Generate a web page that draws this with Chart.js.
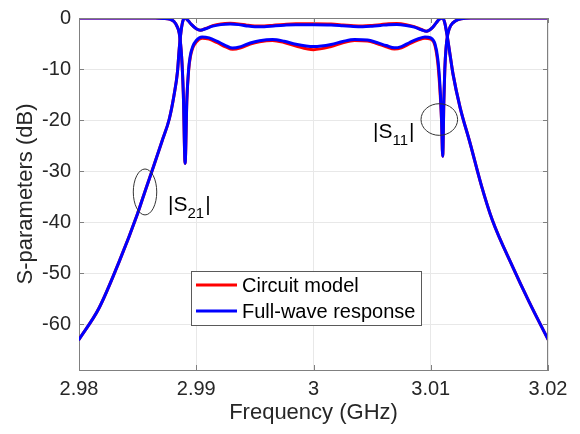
<!DOCTYPE html>
<html><head><meta charset="utf-8">
<script src="https://cdn.jsdelivr.net/npm/chart.js@4.4.0/dist/chart.umd.min.js"></script>
<style>html,body{margin:0;padding:0;background:#fff;}canvas{display:block;}</style>
</head><body>
<canvas id="c" width="580" height="434"></canvas>
<script>
const xTicks = [2.98, 2.99, 3.00, 3.01, 3.02];
const yTicks = [-60, -50, -40, -30, -20, -10, 0];
const seriesNames = ['Circuit model', 'Full-wave response'];

const freqS21 = [2.98, 2.9817, 2.9834, 2.9850, 2.9857, 2.9864, 2.9871, 2.9877, 2.9881, 2.9884, 2.98855, 2.98875, 2.9889, 2.98905,
  2.9893, 2.9896, 2.9900, 2.99035, 2.9908, 2.9914, 2.9921, 2.9929, 2.9936, 2.9943, 2.9950, 2.9958, 2.9966, 2.9975, 2.9985,
  3.0000, 3.0015, 3.0025, 3.0034, 3.0042, 3.0050, 3.0057, 3.0064, 3.0071, 3.0079, 3.0086, 3.0092, 3.00965, 3.0101, 3.01045,
  3.01075, 3.01102, 3.0112, 3.0114, 3.0116, 3.0119, 3.0125, 3.01335, 3.01434, 3.01525, 3.01695, 3.01838, 3.02];
const s21Full = [-63.0, -56.9, -47.9, -38.3, -33.5, -28.8, -24.0, -19.8, -15.2, -10.5, -6.0, -1.8, -0.3, 0,
  -0.5, -1.3, -2.1, -2.4, -2.1, -1.6, -1.3, -1.2, -1.3, -1.55, -1.7, -1.7, -1.55, -1.4, -1.3,
  -1.3, -1.35, -1.5, -1.65, -1.7, -1.6, -1.45, -1.3, -1.25, -1.45, -1.8, -2.3, -2.6, -2.0, -1.0,
  -0.2, 0, -1.0, -3.5, -6.5, -11.0, -17.5, -24.5, -33.0, -39.6, -48.6, -55.6, -63.0];
const s21Circuit = [-63.0, -56.9, -47.9, -38.3, -33.5, -28.8, -24.0, -19.8, -15.2, -10.5, -6.0, -1.8, -0.3, 0,
  -0.5, -1.3, -2.1, -2.4, -2.05, -1.5, -1.15, -1.05, -1.15, -1.4, -1.55, -1.55, -1.4, -1.25, -1.15,
  -1.15, -1.2, -1.35, -1.5, -1.55, -1.45, -1.3, -1.15, -1.1, -1.3, -1.7, -2.25, -2.6, -2.0, -1.0,
  -0.2, 0, -1.0, -3.5, -6.5, -11.0, -17.5, -24.5, -33.0, -39.6, -48.6, -55.6, -63.0];

const freqS11 = [2.98, 2.984, 2.9865, 2.9872, 2.9877, 2.9881, 2.98835, 2.98855, 2.98875, 2.9889, 2.98905, 2.9892, 2.98935,
  2.9895, 2.9897, 2.9900, 2.9905, 2.9911, 2.9918, 2.9925, 2.9931, 2.9938, 2.9946, 2.9954, 2.9965, 2.9975, 2.9985, 3.0000,
  3.0015, 3.0025, 3.0035, 3.0046, 3.0054, 3.0062, 3.0069, 3.0075, 3.0082, 3.0089, 3.0095, 3.0100, 3.01035, 3.0106, 3.01078,
  3.01092, 3.01102, 3.01112, 3.0112, 3.0113, 3.01145, 3.0117, 3.0121, 3.0126, 3.0135, 3.016, 3.02];
const s11Full = [0, 0, -0.02, -0.08, -0.2, -0.7, -1.6, -3.0, -7.5, -15, -28.5, -16, -10,
  -7.3, -5.6, -4.4, -3.7, -3.9, -4.6, -5.4, -5.9, -5.6, -4.9, -4.45, -4.2, -4.55, -5.15, -5.6,
  -5.2, -4.6, -4.2, -4.3, -4.8, -5.4, -5.85, -5.6, -4.8, -4.1, -3.7, -3.9, -5.0, -8.0, -13,
  -20, -27.1, -16, -10, -6, -3.2, -1.5, -0.6, -0.15, -0.02, 0, 0];
const s11Circuit = [0, 0, -0.02, -0.08, -0.2, -0.7, -1.6, -3.0, -7.5, -15, -28.5, -16, -10.3,
  -7.6, -5.9, -4.7, -3.95, -4.15, -4.85, -5.65, -6.15, -5.85, -5.1, -4.65, -4.4, -4.8, -5.5, -6.2,
  -5.6, -4.85, -4.4, -4.5, -5.0, -5.65, -6.1, -5.85, -5.05, -4.35, -3.95, -4.15, -5.3, -8.8, -14,
  -20, -27.1, -16, -10, -6, -3.2, -1.5, -0.6, -0.15, -0.02, 0, 0];

const FONT = '"Liberation Sans", Arial, Helvetica, sans-serif';
const TXT = '#262626';

function pts(xs, ys) { return xs.map((v, i) => ({ x: v, y: ys[i] })); }

function line(data, color, order) {
  return {
    data, borderColor: color, borderWidth: 3, pointRadius: 0, fill: false,
    cubicInterpolationMode: 'monotone', borderJoinStyle: 'round', borderCapStyle: 'round', order
  };
}

function sParam(ctx, xPx, yBase, sub) {
  ctx.fillStyle = '#000'; ctx.textAlign = 'left'; ctx.textBaseline = 'alphabetic';
  ctx.font = '21px ' + FONT;
  ctx.fillText('|S', xPx, yBase);
  const w = ctx.measureText('|S').width;
  ctx.font = '15px ' + FONT;
  ctx.fillText(sub, xPx + w, yBase + 7);
  const w2 = ctx.measureText(sub).width;
  ctx.font = '21px ' + FONT;
  ctx.fillText('|', xPx + w + w2 + 1, yBase);
}

const decor = {
  id: 'decor',
  afterDraw(chart) {
    const { ctx, chartArea: a, scales: { x, y } } = chart;
    ctx.save();
    // top & right box edges
    ctx.strokeStyle = '#808080'; ctx.lineWidth = 1;
    ctx.beginPath();
    ctx.moveTo(a.left, Math.round(a.top) + 0.5); ctx.lineTo(a.right, Math.round(a.top) + 0.5);
    ctx.moveTo(Math.round(a.right) - 0.5, a.top); ctx.lineTo(Math.round(a.right) - 0.5, a.bottom);
    // inside ticks
    xTicks.forEach(v => {
      const px = Math.round(x.getPixelForValue(v)) + 0.5;
      ctx.moveTo(px, a.bottom); ctx.lineTo(px, a.bottom - 5);
      ctx.moveTo(px, a.top); ctx.lineTo(px, a.top + 5);
    });
    yTicks.forEach(v => {
      const py = Math.round(y.getPixelForValue(v)) + 0.5;
      ctx.moveTo(a.left, py); ctx.lineTo(a.left + 5, py);
      ctx.moveTo(a.right, py); ctx.lineTo(a.right - 5, py);
    });
    ctx.stroke();

    // ellipses
    ctx.strokeStyle = '#333'; ctx.lineWidth = 1;
    const ell = (cx, cy, rx, ry) => {
      const X = x.getPixelForValue(cx), Y = y.getPixelForValue(cy);
      const RX = Math.abs(x.getPixelForValue(cx + rx) - X), RY = Math.abs(y.getPixelForValue(cy + ry) - Y);
      ctx.beginPath(); ctx.ellipse(X, Y, RX, RY, 0, 0, Math.PI * 2); ctx.stroke();
    };
    ell(2.98563, -34.1, 0.0010, 4.5);
    ell(3.01073, -19.9, 0.00156, 3.1);

    // annotations
    sParam(ctx, x.getPixelForValue(2.98759), y.getPixelForValue(-37.9), '21');
    sParam(ctx, x.getPixelForValue(3.00507), y.getPixelForValue(-23.5), '11');

    // legend
    const lx = a.left + 112, ly = a.top + 253, lw = 230, lh = 54;
    ctx.fillStyle = '#fff'; ctx.fillRect(lx, ly, lw, lh);
    ctx.strokeStyle = '#5a5a5a'; ctx.lineWidth = 1;
    ctx.strokeRect(lx + 0.5, ly + 0.5, lw, lh);
    const colors = ['#ff0000', '#0000ff'];
    seriesNames.forEach((n, i) => {
      const yy = ly + 14 + i * 26;
      ctx.strokeStyle = colors[i]; ctx.lineWidth = 3;
      ctx.beginPath(); ctx.moveTo(lx + 5, yy); ctx.lineTo(lx + 46, yy); ctx.stroke();
      ctx.fillStyle = '#000'; ctx.font = '20px ' + FONT; ctx.textBaseline = 'middle'; ctx.textAlign = 'left';
      ctx.fillText(n, lx + 51, yy + 1);
    });

    // axis titles
    ctx.fillStyle = TXT; ctx.font = '22px ' + FONT; ctx.textAlign = 'center'; ctx.textBaseline = 'middle';
    ctx.fillText('Frequency (GHz)', (a.left + a.right) / 2, 413);
    ctx.translate(26, (a.top + a.bottom) / 2);
    ctx.rotate(-Math.PI / 2);
    ctx.fillText('S-parameters (dB)', 0, 0);
    ctx.restore();
  }
};

new Chart(document.getElementById('c'), {
  type: 'line',
  data: {
    datasets: [
      line(pts(freqS21, s21Circuit), '#ff0000', 2),
      line(pts(freqS11, s11Circuit), '#ff0000', 2),
      line(pts(freqS21, s21Full), '#0000ff', 1),
      line(pts(freqS11, s11Full), '#0000ff', 1)
    ]
  },
  options: {
    responsive: false, animation: false, devicePixelRatio: 1,
    layout: { padding: { left: 0, right: 32, top: 11, bottom: 0 } },
    plugins: { legend: { display: false }, tooltip: { enabled: false } },
    scales: {
      x: {
        type: 'linear', min: 2.98, max: 3.02,
        afterBuildTicks: s => { s.ticks = xTicks.map(v => ({ value: v })); },
        afterFit: s => { s.height = 64; },
        ticks: { font: { family: FONT, size: 20 }, color: TXT, padding: 7, maxRotation: 0,
          callback: v => String(Number(v.toFixed(2))) },
        grid: { color: '#e8e8e8', drawTicks: false },
        border: { color: '#808080', width: 1 }
      },
      y: {
        type: 'linear', min: -69, max: 0,
        afterBuildTicks: s => { s.ticks = yTicks.map(v => ({ value: v })); },
        afterFit: s => { s.width = 79; },
        ticks: { font: { family: FONT, size: 20, lineHeight: 1 }, color: TXT, padding: 8,
          callback: v => String(v) },
        grid: { color: '#e8e8e8', drawTicks: false },
        border: { color: '#808080', width: 1 }
      }
    }
  },
  plugins: [decor]
});
</script>
</body></html>
